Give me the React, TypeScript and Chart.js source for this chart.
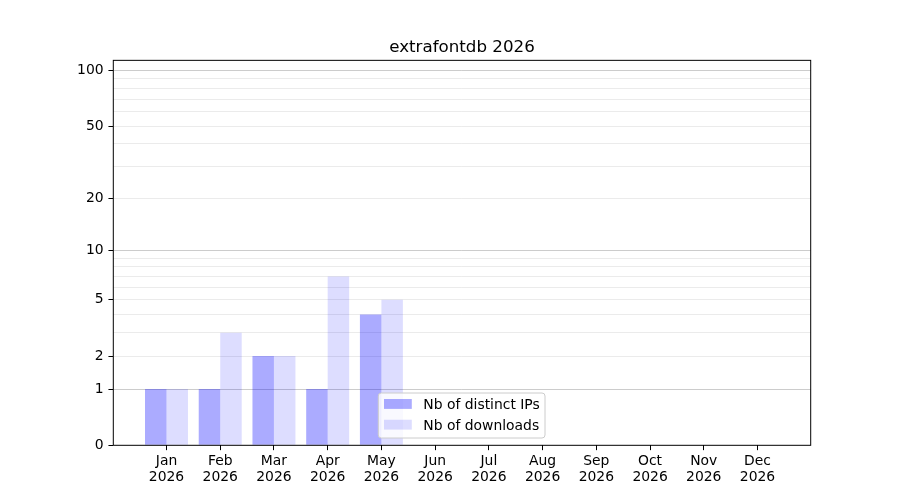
import React, { useEffect, useRef } from 'react';
import { Chart, registerables, LinearScale } from 'chart.js';

Chart.register(...registerables);

const months = ['Jan', 'Feb', 'Mar', 'Apr', 'May', 'Jun', 'Jul', 'Aug', 'Sep', 'Oct', 'Nov', 'Dec'];
const yearLabel = '2026';
const chartTitle = 'extrafontdb 2026';
const ipsLabel = 'Nb of distinct IPs';
const downloadsLabel = 'Nb of downloads';
const distinctIPs = [1, 1, 2, 1, 4, 0, 0, 0, 0, 0, 0, 0];
const downloads = [1, 3, 2, 7, 5, 0, 0, 0, 0, 0, 0, 0];
const yTickValues = [0, 1, 2, 3, 4, 5, 6, 7, 8, 9, 10, 20, 30, 40, 50, 60, 70, 80, 90, 100];
const yLabeledTicks = [0, 1, 2, 5, 10, 20, 50, 100];
const yMajorGrid = [1, 10, 100];
const yMin = 0;
const yMax = 113.5;
const xMin = -0.99;
const xMax = 11.99;

const FONT = 'DejaVu Sans';

class Log1pScale extends LinearScale {
  static id = 'log1p';
  static defaults = LinearScale.defaults;
  getPixelForValue(value: number) {
    if (value === null || value === undefined || isNaN(value)) return NaN;
    const f = (x: number) => Math.log10(1 + x);
    const a = f(this.min);
    const b = f(this.max);
    return this.getPixelForDecimal((f(value) - a) / (b - a));
  }
  getValueForPixel(pixel: number) {
    const d = this.getDecimalForPixel(pixel);
    const a = Math.log10(1 + this.min);
    const b = Math.log10(1 + this.max);
    return Math.pow(10, a + d * (b - a)) - 1;
  }
}
Chart.register(Log1pScale as any);

const framePlugin = {
  id: 'frame',
  afterDatasetsDraw(chart: any) {
    const { ctx, chartArea: ca } = chart;
    ctx.save();
    ctx.strokeStyle = '#000';
    ctx.lineWidth = 1;
    ctx.strokeRect(ca.left, ca.top, ca.right - ca.left, ca.bottom - ca.top);
    ctx.restore();
  },
};

const legendPlugin = {
  id: 'mplLegend',
  afterDraw(chart: any) {
    const { ctx, chartArea: ca } = chart;
    const x = ca.left + 265;
    const y = ca.bottom - 52.3;
    const w = 166.7;
    const h = 45;
    const r = 3;
    ctx.save();
    ctx.beginPath();
    ctx.moveTo(x + r, y);
    ctx.lineTo(x + w - r, y);
    ctx.arcTo(x + w, y, x + w, y + r, r);
    ctx.lineTo(x + w, y + h - r);
    ctx.arcTo(x + w, y + h, x + w - r, y + h, r);
    ctx.lineTo(x + r, y + h);
    ctx.arcTo(x, y + h, x, y + h - r, r);
    ctx.lineTo(x, y + r);
    ctx.arcTo(x, y, x + r, y, r);
    ctx.closePath();
    ctx.fillStyle = 'rgba(255,255,255,0.8)';
    ctx.fill();
    ctx.strokeStyle = '#cccccc';
    ctx.lineWidth = 1;
    ctx.stroke();
    ctx.font = `13.9px "${FONT}"`;
    ctx.textBaseline = 'alphabetic';
    ctx.textAlign = 'left';
    chart.data.datasets.forEach((ds: any, i: number) => {
      const rowY = y + 6 + i * 20.7;
      ctx.fillStyle = ds.backgroundColor;
      ctx.fillRect(x + 5.7, rowY, 27.8, 9.9);
      ctx.fillStyle = '#000';
      ctx.fillText(ds.label, x + 45, y + 16 + i * 20.7);
    });
    ctx.restore();
  },
};

export default function App() {
  const ref = useRef<HTMLCanvasElement>(null);
  useEffect(() => {
    if (!ref.current) return;
    const chart = new Chart(ref.current, {
      type: 'bar',
      data: {
        datasets: [
          {
            label: ipsLabel,
            data: distinctIPs.map((v, i) => ({ x: i, y: v })),
            backgroundColor: 'rgba(0,0,255,0.33)',
            borderWidth: 0,
          },
          {
            label: downloadsLabel,
            data: downloads.map((v, i) => ({ x: i, y: v })),
            backgroundColor: 'rgba(0,0,255,0.133)',
            borderWidth: 0,
          },
        ],
      },
      options: {
        animation: false,
        responsive: false,
        devicePixelRatio: 1,
        layout: { padding: { left: 0, right: 89.3, top: 0, bottom: 0 } },
        datasets: { bar: { categoryPercentage: 0.8, barPercentage: 1.0, grouped: true } },
        plugins: {
          legend: { display: false },
          tooltip: { enabled: false },
          title: {
            display: true,
            text: chartTitle,
            fullSize: false,
            color: '#000',
            font: { family: FONT, size: 16.7, weight: 'normal', lineHeight: 1.2 },
            padding: { top: 37.3, bottom: 3 },
          },
        },
        scales: {
          x: {
            type: 'linear',
            min: xMin,
            max: xMax,
            offset: false,
            afterBuildTicks: (scale: any) => {
              scale.ticks = months.map((_, i) => ({ value: i }));
            },
            afterFit: (scale: any) => {
              scale.height = 54.7;
            },
            ticks: {
              autoSkip: false,
              maxRotation: 0,
              minRotation: 0,
              padding: 3.6,
              color: '#000',
              font: { family: FONT, size: 13.9, lineHeight: '15.8px' },
              callback: (value: any) => [months[value], yearLabel],
            },
            grid: {
              display: true,
              offset: false,
              drawOnChartArea: false,
              drawTicks: true,
              tickLength: 4.86,
              tickColor: '#000',
              tickWidth: 1,
            },
            border: { display: false },
          },
          y: {
            type: 'log1p' as any,
            min: yMin,
            max: yMax,
            afterBuildTicks: (scale: any) => {
              scale.ticks = yTickValues.map((v) => ({ value: v }));
            },
            afterFit: (scale: any) => {
              scale.width = 113.3;
            },
            ticks: {
              autoSkip: false,
              padding: 4.86,
              color: '#000',
              font: { family: FONT, size: 13.9 },
              callback: (value: any) => (yLabeledTicks.includes(value) ? String(value) : ''),
            },
            grid: {
              display: true,
              drawOnChartArea: true,
              drawTicks: true,
              tickLength: 4.86,
              lineWidth: 1,
              tickWidth: 1,
              color: (ctx: any) => {
                const v = ctx.tick ? ctx.tick.value : null;
                if (v === 0) return 'rgba(0,0,0,0)';
                return yMajorGrid.includes(v) ? '#cccccc' : '#ebebeb';
              },
              tickColor: (ctx: any) => {
                const v = ctx.tick ? ctx.tick.value : null;
                return yLabeledTicks.includes(v) ? '#000' : 'rgba(0,0,0,0)';
              },
            },
            border: { display: false },
          },
        },
      } as any,
      plugins: [framePlugin, legendPlugin],
    });
    return () => chart.destroy();
  }, []);
  return (
    <div style={{ position: 'absolute', left: 0, top: 0, width: 900, height: 500, background: '#fff' }}>
      <canvas ref={ref} width={900} height={500} style={{ width: 900, height: 500 }} />
    </div>
  );
}
